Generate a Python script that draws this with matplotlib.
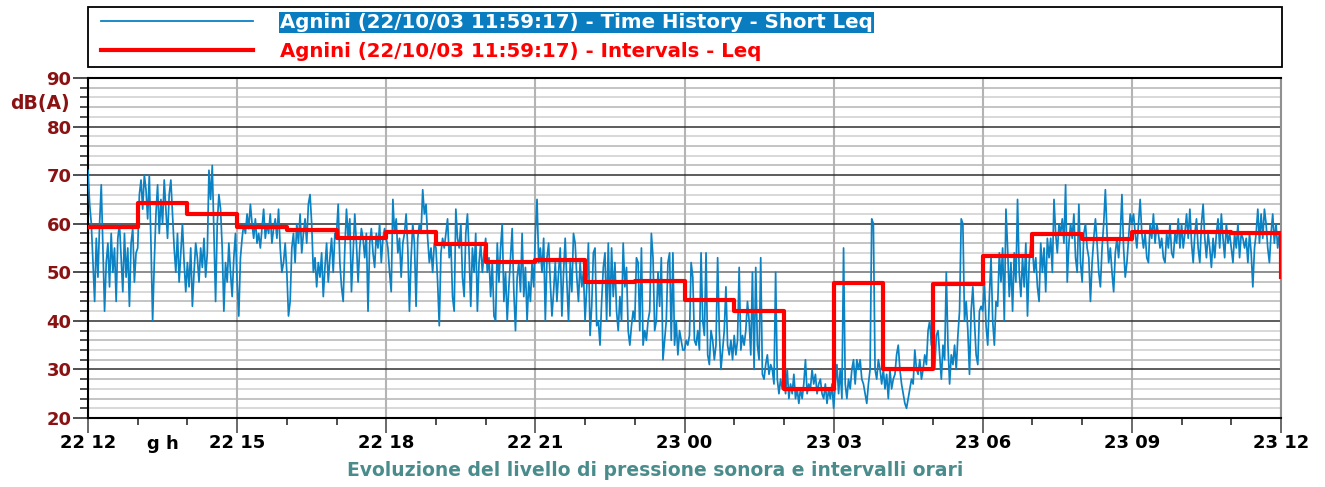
import numpy as np
import pandas as pd
import matplotlib
matplotlib.use("Agg")
import matplotlib.pyplot as plt
import matplotlib.dates as mdates
import matplotlib.transforms as mtransforms
from matplotlib.patches import Rectangle

# ---------------- data ----------------
start = "2003-10-22 12:00"
# Short Leq, one value every 2 minutes, 30 values per hour
h12 = [71, 64, 60, 52, 44, 57, 49, 60, 68, 55, 42, 52, 56, 47, 58, 50, 55, 44, 57, 60, 53, 46, 58, 49, 55, 43, 56, 59, 48, 54]
h13 = [55, 66, 69, 63, 70, 67, 61, 70, 56, 40, 52, 62, 68, 58, 65, 60, 69, 63, 57, 66, 69, 62, 55, 50, 58, 48, 54, 60, 52, 46]
h14 = [52, 47, 55, 43, 50, 56, 53, 48, 55, 51, 57, 49, 54, 71, 65, 72, 58, 44, 60, 66, 63, 55, 42, 52, 48, 56, 50, 45, 53, 58]
h15 = [48, 41, 53, 57, 60, 58, 62, 59, 64, 60, 57, 61, 56, 58, 55, 59, 63, 57, 60, 58, 62, 56, 59, 61, 57, 63, 55, 50, 52, 56]
h16 = [50, 41, 44, 55, 58, 52, 60, 56, 62, 54, 58, 61, 56, 64, 66, 60, 50, 53, 47, 52, 49, 54, 45, 51, 56, 48, 53, 57, 50, 58]
h17 = [58, 64, 52, 47, 44, 55, 63, 57, 61, 46, 54, 62, 56, 48, 55, 59, 57, 53, 58, 42, 56, 59, 54, 51, 58, 55, 60, 52, 57, 59]
h18 = [57, 55, 50, 46, 65, 58, 61, 54, 57, 49, 56, 58, 62, 55, 42, 53, 60, 56, 43, 57, 60, 58, 67, 62, 64, 57, 52, 55, 50, 56]
h19 = [55, 48, 39, 54, 57, 55, 58, 61, 53, 56, 45, 42, 63, 57, 55, 60, 49, 45, 58, 62, 54, 43, 55, 50, 58, 42, 52, 56, 50, 54]
h20 = [57, 50, 53, 45, 52, 41, 40, 56, 48, 55, 60, 44, 50, 40, 47, 53, 59, 46, 38, 49, 52, 46, 58, 45, 51, 40, 48, 44, 52, 47]
h21 = [58, 65, 52, 55, 50, 57, 40, 53, 56, 48, 41, 46, 52, 44, 50, 55, 41, 50, 57, 48, 40, 52, 46, 58, 56, 49, 44, 52, 47, 50]
h22 = [40, 47, 56, 37, 43, 54, 55, 39, 40, 35, 44, 51, 54, 40, 56, 41, 55, 45, 52, 42, 38, 45, 40, 56, 47, 51, 38, 35, 39, 42]
h23 = [40, 53, 52, 38, 55, 35, 38, 36, 40, 42, 58, 53, 38, 40, 50, 43, 53, 32, 36, 40, 52, 54, 36, 54, 35, 40, 33, 38, 36, 34]
h00 = [34, 36, 35, 37, 52, 49, 36, 35, 38, 34, 54, 40, 37, 54, 33, 31, 38, 36, 32, 35, 53, 38, 30, 34, 38, 47, 35, 33, 36, 32]
h01 = [37, 33, 36, 51, 34, 37, 35, 38, 44, 40, 33, 50, 30, 51, 35, 32, 53, 29, 28, 31, 33, 29, 31, 30, 27, 50, 28, 25, 28, 26]
h02 = [28, 25, 30, 24, 27, 25, 29, 24, 26, 23, 26, 24, 27, 32, 25, 27, 26, 30, 27, 29, 25, 27, 28, 25, 24, 27, 23, 26, 24, 27]
h03 = [22, 27, 31, 25, 30, 24, 55, 27, 24, 28, 26, 30, 32, 27, 32, 30, 32, 28, 27, 25, 23, 27, 30, 61, 60, 30, 28, 32, 30, 27]
h04 = [30, 26, 29, 24, 30, 26, 28, 29, 33, 35, 30, 27, 25, 23, 22, 24, 26, 28, 27, 34, 30, 29, 32, 28, 30, 33, 31, 38, 40, 35]
h05 = [35, 30, 37, 38, 33, 28, 35, 32, 50, 35, 27, 33, 31, 35, 30, 37, 42, 61, 60, 40, 44, 38, 29, 42, 47, 40, 33, 31, 42, 43]
h06 = [42, 48, 39, 35, 45, 53, 40, 35, 44, 43, 54, 48, 55, 40, 63, 55, 45, 52, 42, 54, 48, 65, 50, 45, 53, 47, 56, 41, 52, 56]
h07 = [55, 50, 53, 47, 44, 56, 50, 55, 46, 57, 53, 57, 50, 65, 58, 54, 60, 58, 61, 56, 68, 48, 56, 60, 57, 62, 53, 50, 64, 52]
h08 = [48, 58, 60, 55, 53, 44, 52, 57, 61, 56, 50, 47, 55, 60, 67, 58, 52, 55, 50, 46, 54, 57, 53, 58, 66, 55, 49, 52, 57, 62]
h09 = [60, 62, 58, 55, 60, 65, 58, 55, 58, 53, 52, 60, 57, 62, 56, 60, 58, 55, 57, 53, 52, 58, 55, 60, 54, 53, 58, 56, 61, 55]
h10 = [60, 55, 58, 62, 57, 63, 56, 52, 58, 61, 55, 52, 60, 64, 57, 53, 58, 55, 51, 57, 53, 58, 61, 55, 62, 57, 53, 60, 56, 58]
h11 = [55, 52, 58, 55, 60, 53, 58, 57, 55, 57, 52, 58, 54, 47, 55, 58, 63, 56, 62, 57, 63, 60, 55, 52, 58, 62, 56, 60, 55, 58]

# hourly interval Leq (last value = level at 23 12)
interval_leq = [59.3, 64.2, 62.1, 59.4, 58.8, 57.0, 58.3, 55.8, 52.2, 52.6, 48.1, 48.3,
                44.2, 42.0, 26.0, 47.7, 30.0, 47.5, 53.4, 57.9, 56.9, 58.3, 58.3, 58.1, 49.1]

legend_short = "Agnini (22/10/03 11:59:17) - Time History - Short Leq"
legend_int = "Agnini (22/10/03 11:59:17) - Intervals - Leq"
title = "Evoluzione del livello di pressione sonora e intervalli orari"
unit_label = "dB(A)"
gh_label = "g h"

short_leq = (h12 + h13 + h14 + h15 + h16 + h17 + h18 + h19 + h20 + h21 + h22 + h23 +
             h00 + h01 + h02 + h03 + h04 + h05 + h06 + h07 + h08 + h09 + h10 + h11)
t_short = pd.date_range(start, periods=len(short_leq), freq="2min")
t_int = pd.date_range(start, periods=len(interval_leq), freq="60min")

# ---------------- style ----------------
plt.rcParams['font.family'] = ['DejaVu Sans']
plt.rcParams['font.weight'] = 'bold'
BLUE = '#0a82c4'
RED = '#ff0000'
DARKRED = '#8a1212'
TEAL = '#4a8c8c'

W, H = 1325, 487
PX = 72 / 100  # points per pixel
fig = plt.figure(figsize=(W / 100, H / 100), dpi=100)
ax = fig.add_axes([88 / W, 1 - 418 / H, (1281 - 88) / W, (418 - 78) / H])

l1, = ax.plot(t_short, short_leq, color=BLUE, lw=1.25, zorder=3)
l2, = ax.step(t_int, interval_leq, where='post', color=RED, lw=3.0, zorder=4)

ax.set_ylim(20, 90)
ax.set_xlim(t_int[0], t_int[-1])

# grid
for v in range(22, 90, 2):
    if v % 10 == 0:
        continue
    ax.axhline(v, color='#c4c4c4' if v % 4 == 0 else '#d8d8d8', lw=1.4, zorder=1)
for v in range(30, 90, 10):
    ax.axhline(v, color='#303030' if v != 50 else '#707070', lw=1.1, zorder=2)

ax.xaxis.set_major_locator(mdates.HourLocator(byhour=range(0, 24, 3)))
ax.xaxis.set_minor_locator(mdates.HourLocator())
ax.xaxis.set_major_formatter(mdates.DateFormatter('%d %H'))
ax.grid(axis='x', which='major', color='#b4b4b4', lw=1.5, zorder=1)

ax.set_yticks(range(20, 91, 10))
ax.set_yticks(range(20, 91, 2), minor=True)
ax.tick_params(axis='y', which='major', length=15 * PX, width=1.2, color='#303030',
               labelsize=13, labelcolor=DARKRED, pad=1)
ax.tick_params(axis='y', which='minor', length=8 * PX, width=1.2, color='#303030')
ax.tick_params(axis='x', which='major', length=15 * PX, width=1.2, color='#505050',
               labelsize=13, labelcolor='black', pad=1)
ax.tick_params(axis='x', which='minor', length=7 * PX, width=1.2, color='#303030')
for lab in ax.get_xticklabels() + ax.get_yticklabels():
    lab.set_fontweight('bold')

for s in ['left', 'bottom', 'top']:
    ax.spines[s].set_color('black')
    ax.spines[s].set_linewidth(1.5)
ax.spines['right'].set_color('#909090')
ax.spines['right'].set_linewidth(1.5)

fig.text(10 / W, 1 - 103 / H, unit_label, color=DARKRED, fontsize=13.5,
         fontweight='bold', ha='left', va='center')
trans = mtransforms.blended_transform_factory(ax.transData, fig.transFigure)
ax.text(t_int[0] + pd.Timedelta(minutes=90), 1 - 444 / H, gh_label, transform=trans,
        fontsize=13, fontweight='bold', ha='center', va='center')
fig.text(655 / W, 1 - 471 / H, title, color=TEAL, fontsize=13.5,
         fontweight='bold', ha='center', va='center')

# legend box
fig.patches.append(Rectangle((88 / W, 1 - 67 / H), (1282 - 88) / W, 60 / H,
                             transform=fig.transFigure, facecolor='white',
                             edgecolor='black', lw=1.3, zorder=0))
LFS = 14.2
em = LFS * 100 / 72
leg = fig.legend([l1, l2], [legend_short, legend_int], loc='upper left',
                 bbox_to_anchor=(97 / W, 1 - 9 / H), bbox_transform=fig.transFigure,
                 frameon=False, prop={'size': LFS, 'weight': 'bold'},
                 handlelength=152 / em, handletextpad=27 / em, borderpad=0.2,
                 labelspacing=0.5, borderaxespad=0)
leg.get_lines()[0].set_linewidth(1.3)
leg.get_lines()[1].set_linewidth(3)
texts = leg.get_texts()
texts[0].set_color('white')
texts[0].set_bbox(dict(facecolor='#0a7cc0', edgecolor='none', pad=1.0))
texts[1].set_color(RED)

fig.savefig('out.png', dpi=100)
